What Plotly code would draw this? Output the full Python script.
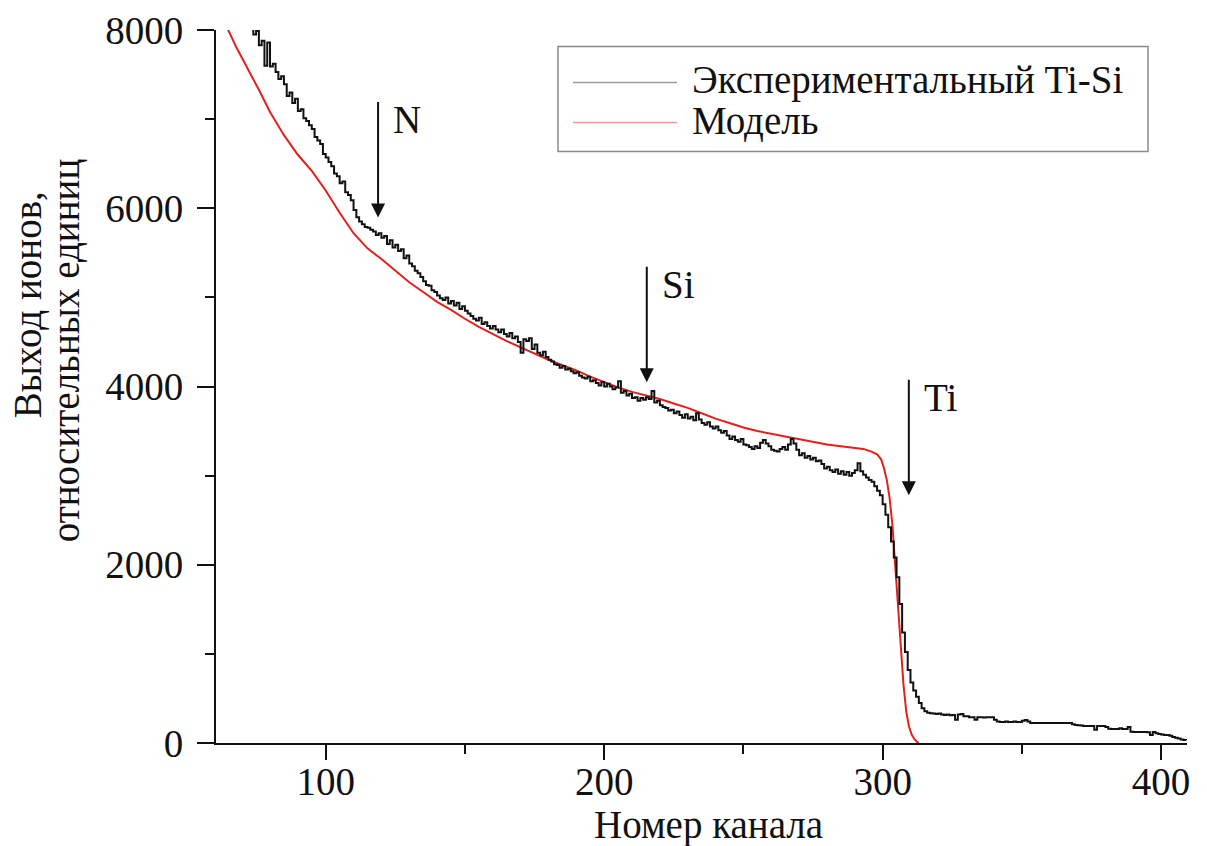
import plotly.graph_objects as go

# ---------------- data ----------------
exp_start = 72
exp_counts = [
    8150, 8080, 7950, 7990, 7830, 7880, 7600, 7860, 7590, 7620,
    7530, 7450, 7480, 7390, 7260, 7300, 7180, 7230, 7090, 7110,
    7010, 6980, 6930, 6890, 6800, 6760, 6720, 6610, 6570, 6520,
    6470, 6390, 6360, 6280, 6300, 6180, 6150, 6090, 5980, 5900,
    5850, 5820, 5790, 5780, 5760, 5740, 5700, 5720, 5670, 5690,
    5600, 5640, 5560, 5590, 5520, 5540, 5440, 5470, 5380, 5350,
    5300, 5270, 5230, 5180, 5140, 5130, 5080, 5060, 5020, 4990,
    4970, 5000, 4930, 4960, 4910, 4940, 4870, 4900, 4850, 4820,
    4790, 4760, 4740, 4770, 4700, 4720, 4680, 4650, 4680, 4640,
    4610, 4640, 4590, 4560, 4600, 4540, 4560, 4500, 4380, 4530,
    4510, 4540, 4420, 4470, 4380, 4350, 4390, 4330, 4300, 4280,
    4250, 4240, 4210, 4230, 4190, 4200, 4170, 4150, 4160, 4120,
    4100, 4090, 4110, 4060, 4070, 4040, 4010, 4050, 4000, 4030,
    4000, 3970, 3990, 4060, 3930, 3950, 3900, 3920, 3870, 3880,
    3840, 3870, 3850, 3880, 3860, 3950, 3820, 3840, 3790, 3770,
    3760, 3730, 3740, 3700, 3720, 3680, 3650, 3690, 3640, 3660,
    3620, 3700, 3630, 3590, 3570, 3600, 3550, 3530, 3550, 3510,
    3480, 3500, 3450, 3410, 3440, 3400, 3380, 3410, 3350, 3340,
    3320, 3300, 3330, 3310, 3370, 3400, 3360, 3330, 3290, 3280,
    3270, 3300, 3320, 3290, 3350, 3410, 3360, 3290, 3230, 3250,
    3200, 3220, 3180, 3200, 3160, 3170, 3130, 3080, 3100, 3060,
    3040, 3070, 3020, 3050, 3010, 3040, 3000, 3030, 3060, 3140,
    3050, 3010, 2980, 2950, 2930, 2880, 2830, 2780, 2680, 2560,
    2420, 2260, 2080, 1860, 1560, 1240, 1020, 820, 680, 590,
    520, 450, 390, 355, 340, 335, 330, 325, 330, 320,
    315, 320, 310, 315, 260, 320, 325, 300, 300, 290,
    290, 260, 290, 290, 285, 290, 290, 290, 260, 240,
    236, 236, 240, 236, 236, 240, 236, 236, 250, 258,
    240, 224, 224, 224, 224, 224, 224, 224, 224, 224,
    224, 224, 224, 224, 224, 224, 210, 202, 200, 195,
    191, 191, 191, 191, 150, 191, 191, 191, 180, 160,
    157, 157, 157, 165, 157, 157, 180, 125, 123, 123,
    123, 123, 123, 120, 90, 123, 110, 100, 95, 90,
    90, 80, 67, 60, 50, 40, 34, 30,
]
exp_channels = list(range(exp_start, exp_start + len(exp_counts)))

model_channels = [
    64, 65, 68, 72, 76, 80, 85, 90, 95, 100, 105, 110, 115, 120, 125, 130,
    135, 140, 145, 150, 155, 160, 165, 170, 175, 180, 185, 190, 195, 200,
    205, 210, 215, 220, 225, 230, 235, 240, 245, 250, 255, 260, 265, 270,
    275, 280, 285, 290, 293, 296, 298, 299.5, 300.5, 301.5, 302.5, 303.5,
    304.5, 305.5, 306.5, 307.5, 308.5, 309.5, 310.5, 311.5, 312.5, 313,
]
model_counts = [
    8080, 8000, 7800, 7570, 7330, 7080, 6820, 6600, 6420, 6200, 5950, 5720,
    5550, 5430, 5300, 5170, 5060, 4950, 4860, 4760, 4670, 4590, 4510, 4440,
    4370, 4300, 4240, 4180, 4110, 4050, 3990, 3940, 3900, 3860, 3810, 3760,
    3700, 3640, 3590, 3540, 3500, 3470, 3440, 3410, 3380, 3350, 3330, 3310,
    3300, 3270, 3240, 3180, 3080, 2950, 2750, 2450, 2000, 1500, 1050, 650,
    350, 180, 90, 40, 10, 0,
]

legend_names = ["Экспериментальный Ti-Si", "Модель"]
markers = [("N", 118.8, 5897), ("Si", 215.3, 4048), ("Ti", 309.4, 2781)]
x_ticks = [100, 200, 300, 400]
y_ticks = [0, 2000, 4000, 6000, 8000]
x_title = "Номер канала"
y_title_lines = ["Выход ионов,", "относительных единиц"]

# ---------------- geometry helpers (pixels -> paper) ----------------
W, H = 1207, 846
L, R, T, B = 216, 20, 29.5, 103
pw, ph = W - L - R, H - T - B


def px(xp):
    return (xp - L) / pw


def py(yp):
    return (H - B - yp) / ph


FONT = "Liberation Serif, Times New Roman, serif"
FS = 39
INK = "#111111"
RED = "#e3201b"

fig = go.Figure()
fig.add_trace(go.Scatter(x=model_channels, y=model_counts, mode="lines",
                         line=dict(color=RED, width=2), name=legend_names[1],
                         showlegend=False))
fig.add_trace(go.Scatter(x=exp_channels, y=exp_counts, mode="lines",
                         line=dict(color=INK, width=2, shape="hv"),
                         name=legend_names[0], showlegend=False))

# arrows and element labels
for lab, xv, yv in markers:
    fig.add_annotation(x=xv, y=yv, xref="x", yref="y", text="", showarrow=True,
                       ax=0, ay=-117, arrowhead=2, arrowsize=1.4, arrowwidth=2,
                       arrowcolor=INK, standoff=0)
    fig.add_annotation(x=xv, y=yv, xref="x", yref="y", text=lab, showarrow=False,
                       xanchor="left", yanchor="top", xshift=13, yshift=121,
                       font=dict(family=FONT, size=FS, color=INK))

# manual legend (box, sample lines, labels)
fig.add_shape(type="rect", xref="paper", yref="paper",
              x0=px(558), x1=px(1148), y0=py(151), y1=py(46),
              line=dict(color="#8a8a8a", width=1.5), fillcolor="rgba(0,0,0,0)")
fig.add_shape(type="line", xref="paper", yref="paper",
              x0=px(573), x1=px(677), y0=py(82), y1=py(82),
              line=dict(color="#9a9a9a", width=1.5))
fig.add_shape(type="line", xref="paper", yref="paper",
              x0=px(573), x1=px(677), y0=py(122), y1=py(122),
              line=dict(color="#ec9a9a", width=1.5))
for name, yc in zip(legend_names, [80, 120]):
    fig.add_annotation(x=px(690), y=py(yc), xref="paper", yref="paper",
                       text=name, showarrow=False, xanchor="left",
                       yanchor="middle",
                       font=dict(family=FONT, size=FS, color=INK))

# y-axis title (two lines, rotated)
for txt, xc, yc in zip(y_title_lines, [27, 65], [305, 350]):
    fig.add_annotation(x=px(xc), y=py(yc), xref="paper", yref="paper",
                       text=txt, showarrow=False, textangle=-90,
                       xanchor="center", yanchor="middle",
                       font=dict(family=FONT, size=FS, color=INK))

# x-axis title
fig.add_annotation(x=px(708), y=py(825), xref="paper", yref="paper",
                   text=x_title, showarrow=False, xanchor="center",
                   yanchor="middle", font=dict(family=FONT, size=FS, color=INK))

axis_common = dict(showline=True, linecolor=INK, linewidth=2, ticks="outside",
                   tickcolor=INK, tickwidth=2, showgrid=False, zeroline=False,
                   automargin=False,
                   tickfont=dict(family=FONT, size=FS, color=INK))

fig.update_xaxes(range=[60.6, 409.3], tickvals=x_ticks, ticklen=15,
                 ticklabelstandoff=-12,
                 minor=dict(dtick=50, tick0=0, ticks="outside", ticklen=9,
                            tickcolor=INK, tickwidth=2),
                 **axis_common)
fig.update_yaxes(range=[0, 8000], tickvals=y_ticks, ticklen=17,
                 ticklabelstandoff=6,
                 minor=dict(dtick=1000, tick0=0, ticks="outside", ticklen=9,
                            tickcolor=INK, tickwidth=2),
                 **axis_common)

fig.update_layout(width=W, height=H, margin=dict(l=L, r=R, t=T, b=B),
                  paper_bgcolor="white", plot_bgcolor="white",
                  showlegend=False)

fig.write_html("out.html")
